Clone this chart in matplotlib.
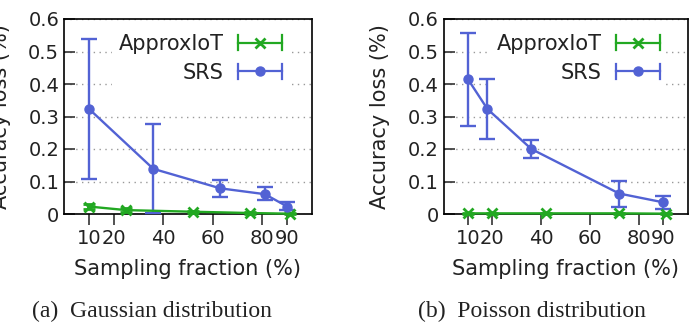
import matplotlib
matplotlib.use("Agg")
import matplotlib.pyplot as plt
from matplotlib.lines import Line2D
from matplotlib.legend_handler import HandlerBase

# ---------------- data ----------------
xticks = [10, 20, 40, 60, 80, 90]
yticks = [0, 0.1, 0.2, 0.3, 0.4, 0.5, 0.6]

# (a) Gaussian
g_approx_x = [10, 25, 52, 75, 91]
g_approx_y = [0.023, 0.012, 0.007, 0.003, 0.001]
g_approx_e = [0.008, 0.005, 0.003, 0.003, 0.002]
g_srs_x = [10, 36, 63, 81, 90]
g_srs_y = [0.324, 0.139, 0.079, 0.061, 0.023]
g_srs_lo = [0.108, 0.003, 0.053, 0.044, 0.011]
g_srs_hi = [0.540, 0.276, 0.105, 0.082, 0.037]

# (b) Poisson
p_approx_x = [10, 20, 42, 72, 91]
p_approx_y = [0.002, 0.002, 0.002, 0.002, 0.001]
p_approx_e = [0.001, 0.001, 0.001, 0.001, 0.001]
p_srs_x = [10, 18, 36, 72, 90]
p_srs_y = [0.415, 0.323, 0.200, 0.063, 0.036]
p_srs_lo = [0.272, 0.230, 0.172, 0.021, 0.015]
p_srs_hi = [0.556, 0.416, 0.228, 0.103, 0.056]

labels = ["ApproxIoT", "SRS"]
captions = ["(a)  Gaussian distribution", "(b)  Poisson distribution"]
xlabel = "Sampling fraction (%)"
ylabel = "Accuracy loss (%)"

GREEN = "#22a822"
BLUE = "#5262d4"


class HErrHandler(HandlerBase):
    def create_artists(self, legend, orig_handle, xdescent, ydescent,
                       width, height, fontsize, trans):
        c = orig_handle.get_color()
        y = height / 2.0 - ydescent
        x0, x1 = -xdescent, width - xdescent
        h = 5.5
        arts = [
            Line2D([x0, x1], [y, y], color=c, lw=1.6),
            Line2D([x0, x0], [y - h, y + h], color=c, lw=1.6),
            Line2D([x1, x1], [y - h, y + h], color=c, lw=1.6),
            Line2D([(x0 + x1) / 2], [y], marker=orig_handle.get_marker(),
                   markersize=orig_handle.get_markersize(),
                   markeredgewidth=orig_handle.get_markeredgewidth(),
                   color=c, linestyle="none"),
        ]
        for a in arts:
            a.set_transform(trans)
        return arts


fig = plt.figure(figsize=(6.9, 3.24), dpi=100)
ax1 = fig.add_axes([64 / 690, 110 / 324, 248 / 690, 195 / 324])
ax2 = fig.add_axes([443.5 / 690, 110 / 324, 244 / 690, 195 / 324])

panels = [
    (ax1, g_approx_x, g_approx_y, g_approx_e, g_srs_x, g_srs_y, g_srs_lo, g_srs_hi, 152, 0.903),
    (ax2, p_approx_x, p_approx_y, p_approx_e, p_srs_x, p_srs_y, p_srs_lo, p_srs_hi, 532, 0.912),
]

for (ax, ax_x, ax_y, ax_e, sx, sy, slo, shi, capx, legx), cap in zip(panels, captions):
    ax.set_axisbelow(True)
    ea = ax.errorbar(ax_x, ax_y, yerr=ax_e, color=GREEN, lw=1.7, marker="x",
                     markersize=7, markeredgewidth=2, capsize=4.5, capthick=1.7,
                     elinewidth=1.7, label=labels[0], zorder=3)
    err = [[y - l for y, l in zip(sy, slo)], [h - y for y, h in zip(sy, shi)]]
    es = ax.errorbar(sx, sy, yerr=err, color=BLUE, lw=1.7, marker="o",
                     markersize=6.5, capsize=5.5, capthick=1.7,
                     elinewidth=1.7, label=labels[1], zorder=3)
    for cont in (ea, es):
        for a in cont.get_children():
            a.set_clip_on(False)

    ax.set_xlim(0, 100)
    ax.set_ylim(0, 0.6)
    ax.set_xticks(xticks)
    ax.set_xticklabels([str(t) for t in xticks])
    ax.set_yticks(yticks)
    ax.set_yticklabels(["0"] + ["%.1f" % t for t in yticks[1:]])
    ax.tick_params(axis="x", direction="out", length=8, width=1.2,
                   labelsize=14, pad=3, color="#333333", labelcolor="#222222")
    ax.tick_params(axis="y", direction="in", length=8, width=1.2,
                   labelsize=14, pad=3.5, color="#333333", labelcolor="#222222")
    ax.grid(axis="y", color="#999999", linestyle=(0, (1, 3.2)), lw=1.0)
    for s in ax.spines.values():
        s.set_linewidth(1.2)
        s.set_color("black")
    ax.set_xlabel(xlabel, fontsize=15, color="#222222", labelpad=8)
    ax.set_ylabel(ylabel, fontsize=15, color="#222222")
    ax.yaxis.set_label_coords(-53 / (ax.get_position().width * 690), 0.5)

    leg = ax.legend(handles=[ea.lines[0], es.lines[0]], labels=labels,
                    handler_map={Line2D: HErrHandler()},
                    loc="upper right", bbox_to_anchor=(legx, 0.955),
                    markerfirst=False, fontsize=15, frameon=True,
                    facecolor="white", edgecolor="none", framealpha=1,
                    fancybox=False, handlelength=2.1, handletextpad=0.7,
                    labelspacing=0.42, borderpad=0.3, borderaxespad=0)
    leg.set_zorder(1)
    for t in leg.get_texts():
        t.set_color("#222222")

    fig.text(capx / 690, 1 - 311 / 324, cap, fontsize=17, family="Liberation Serif",
             ha="center", va="center", color="#222222")

fig.savefig("out.png", dpi=100)
